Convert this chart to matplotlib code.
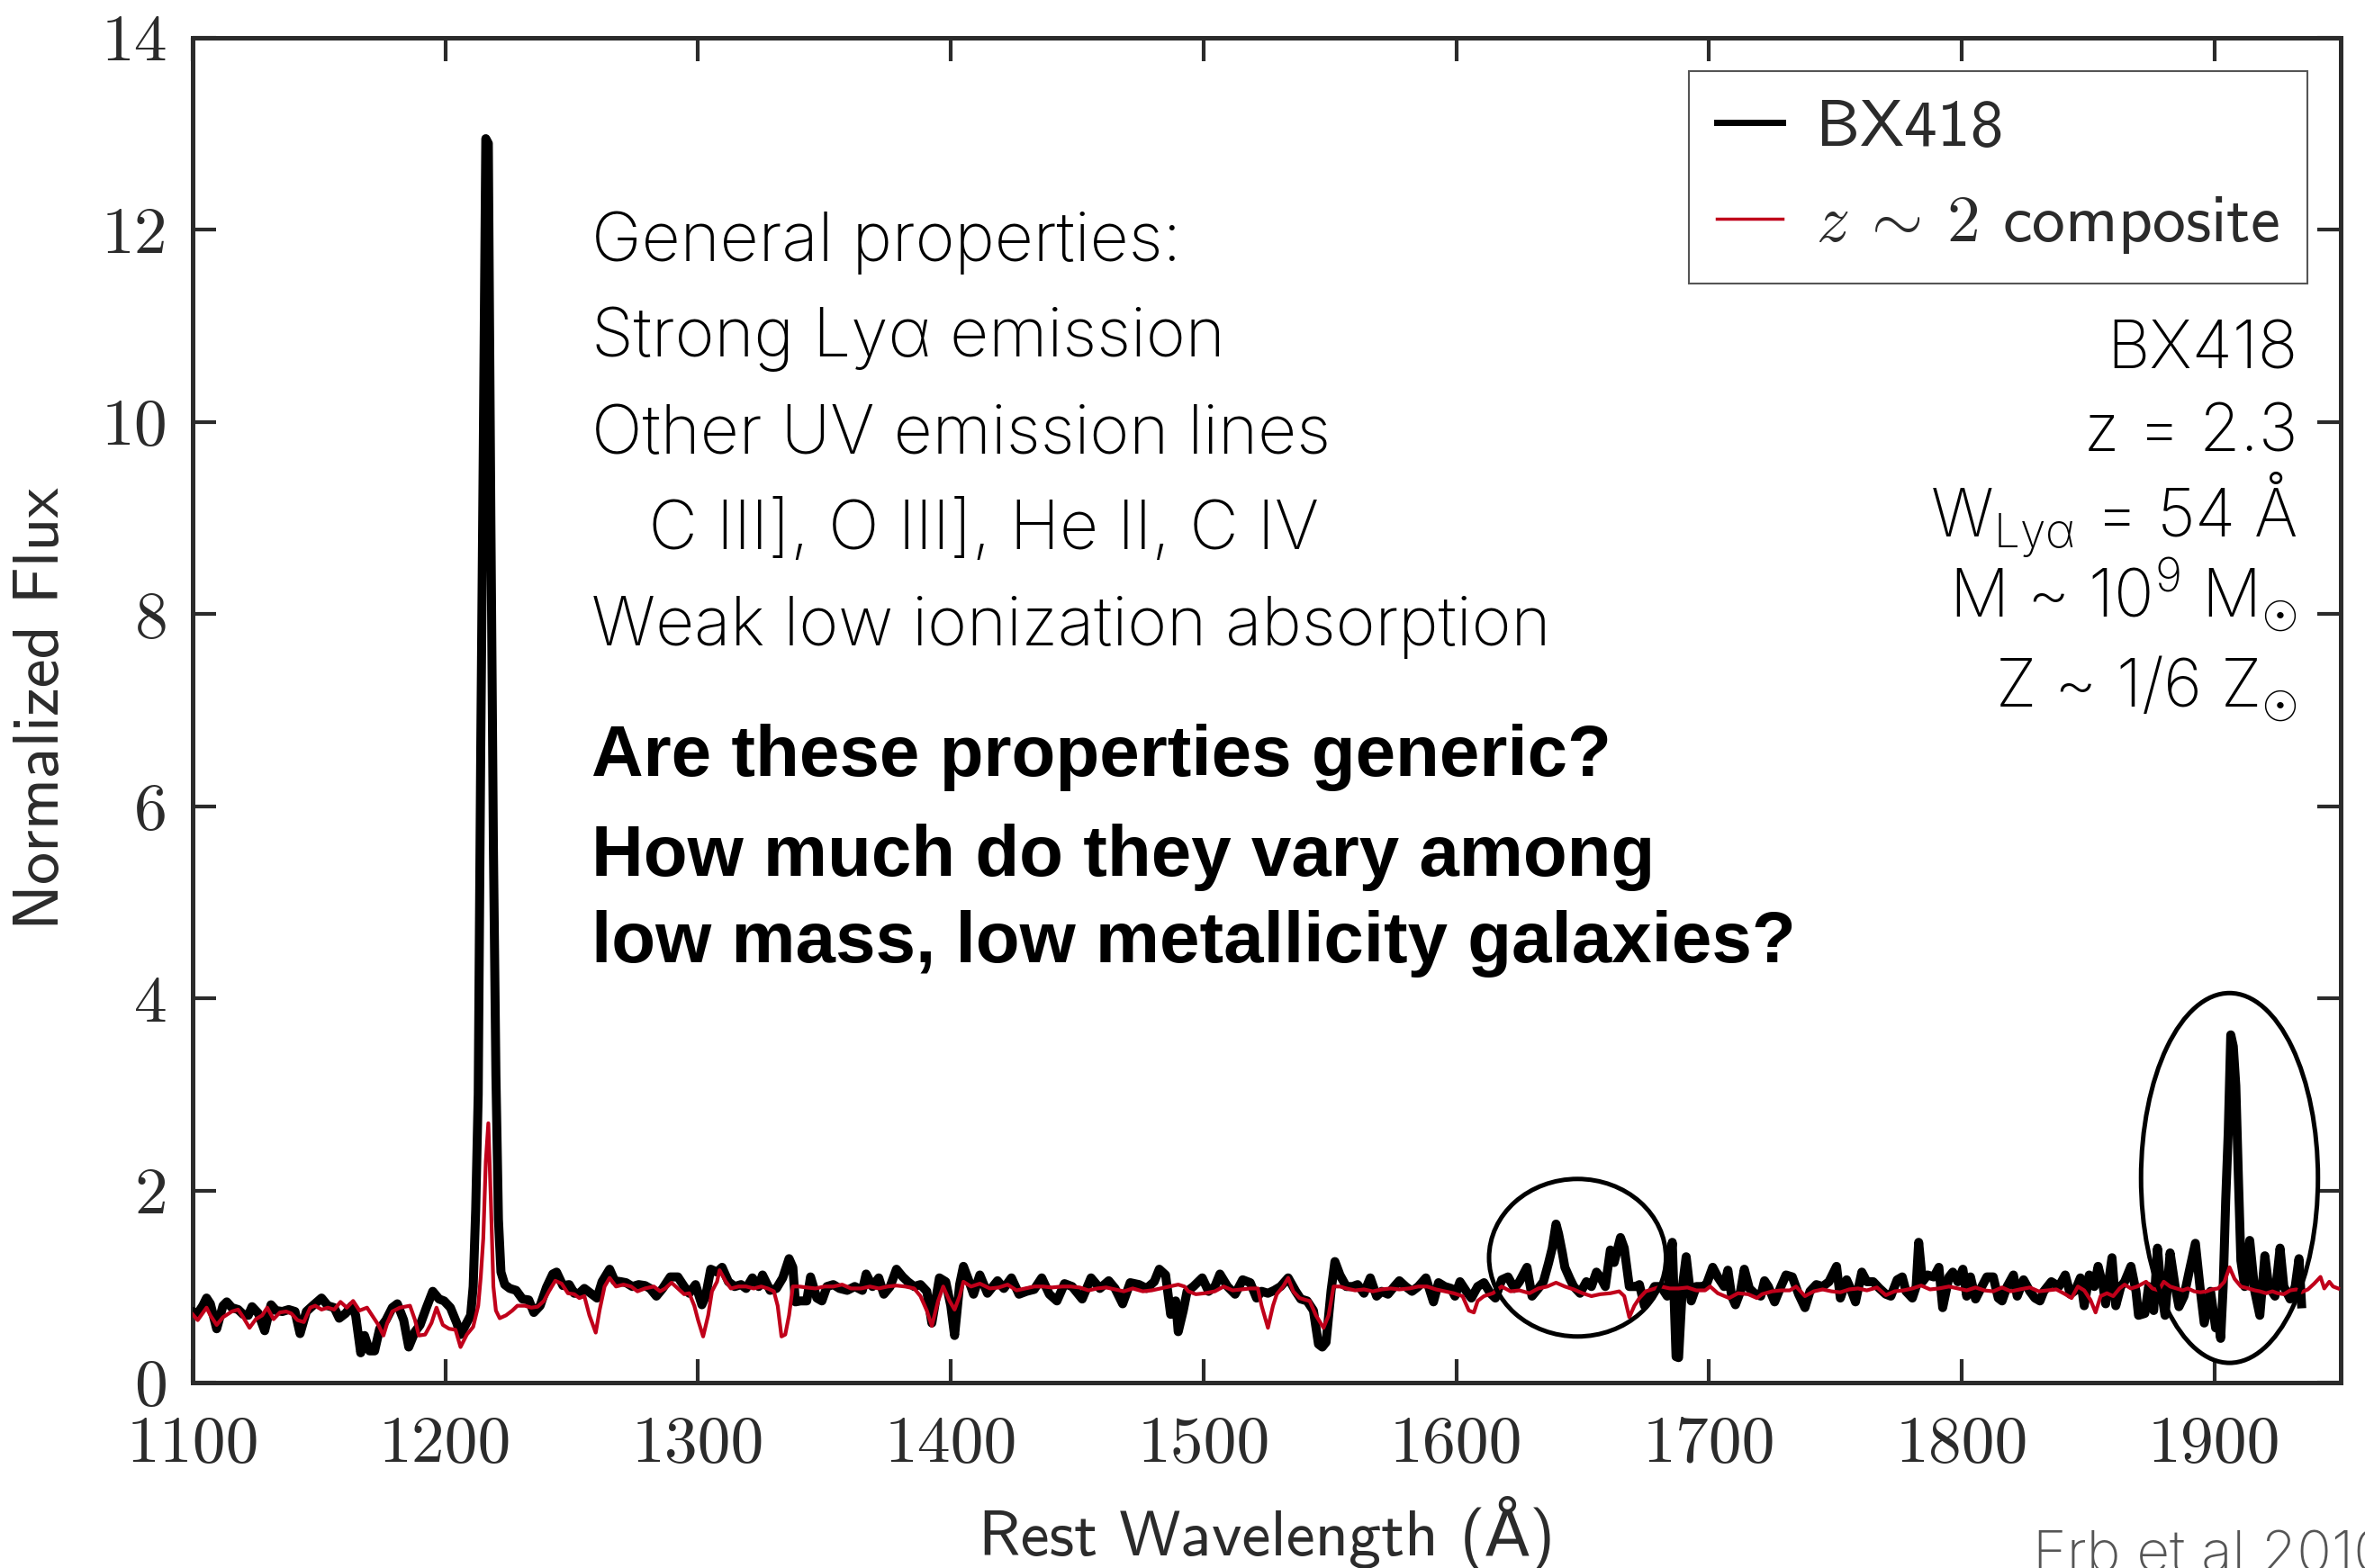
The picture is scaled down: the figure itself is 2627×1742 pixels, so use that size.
import matplotlib.pyplot as plt
from matplotlib.patches import Ellipse

# BX418 spectrum (rest wavelength in Angstrom, normalized flux)
bx418_wave = [
    1100, 1102, 1104, 1105.5, 1107, 1109.5, 1112, 1113.5, 1115.5, 1118,
    1120, 1122, 1123.5, 1126, 1128.5, 1131, 1133, 1135.5, 1138, 1140.5,
    1142.5, 1145, 1147.5, 1151, 1153.5, 1156, 1158, 1160.5, 1163, 1164.5,
    1166.5, 1168, 1170, 1172, 1174, 1176.5, 1179, 1181, 1183.5, 1185.5,
    1188, 1190, 1192.5, 1195, 1197.5, 1199.5, 1202, 1204.5, 1206, 1208,
    1210, 1211, 1212, 1213, 1214, 1215, 1216, 1217, 1218, 1219,
    1220, 1221, 1222, 1223.5, 1225.5, 1228, 1230.5, 1233, 1235, 1237.5,
    1240, 1242.5, 1244, 1246.5, 1249, 1251, 1253, 1255, 1257.5, 1260,
    1262, 1265, 1267, 1269.5, 1271.5, 1274, 1276.5, 1279, 1281, 1283.5,
    1286, 1289, 1292, 1294.5, 1296.5, 1299, 1301.5, 1303, 1305, 1307.5,
    1309.5, 1312, 1314.5, 1317, 1319, 1321.5, 1324, 1325.5, 1328.5, 1331,
    1333.5, 1336, 1337.5, 1338.5, 1340.5, 1343, 1344.5, 1347, 1349, 1351,
    1353.5, 1356, 1359, 1362, 1365, 1366.5, 1369, 1371.5, 1373.5, 1376,
    1378.5, 1381, 1383, 1385.5, 1388, 1390.5, 1392.5, 1395.5, 1398, 1400,
    1401.5, 1403.5, 1405, 1407, 1409, 1411.5, 1414.5, 1418.5, 1421, 1424,
    1427, 1430, 1433, 1436, 1439, 1442, 1445, 1448, 1452, 1455.5,
    1459, 1462.5, 1465, 1468, 1471, 1474.5, 1477.5, 1480.5, 1482.5, 1485,
    1487, 1489, 1490, 1492, 1493.5, 1496, 1499.5, 1502, 1504.5, 1506.5,
    1509.5, 1512.5, 1515.5, 1518.5, 1521, 1523, 1525.5, 1528, 1530.5, 1533.5,
    1536.5, 1538.5, 1541, 1543.5, 1545.5, 1547, 1548.5, 1550.5, 1552, 1554,
    1556.5, 1559, 1561, 1563.5, 1566, 1568.5, 1570.5, 1573, 1575.5, 1577.5,
    1580, 1582.5, 1585, 1588, 1591, 1593, 1595.5, 1598, 1599.5, 1601.5,
    1604, 1606, 1608.5, 1611, 1613.5, 1615.5, 1618, 1620.5, 1623, 1625,
    1628, 1630, 1632.5, 1634.5, 1636.5, 1638, 1639.5, 1640.5, 1642, 1643,
    1645, 1646.5, 1649, 1651.5, 1653.5, 1655.5, 1657, 1659, 1661, 1662.5,
    1665, 1666.5, 1668.5, 1671, 1672.5, 1674.5, 1676, 1678.5, 1681, 1683.5,
    1685.5, 1687, 1688, 1689.5, 1691, 1693, 1695, 1697.5, 1699, 1701.5,
    1703.5, 1706, 1707.5, 1709, 1710.5, 1712.5, 1714, 1716, 1718, 1720.5,
    1722, 1723.5, 1726, 1728.5, 1730.5, 1733, 1735.5, 1738, 1740, 1742.5,
    1745, 1747.5, 1750.5, 1752, 1754.5, 1756, 1758, 1760.5, 1762.5, 1765,
    1767.5, 1770, 1772, 1774.5, 1776.5, 1778, 1780.5, 1782, 1783, 1784.5,
    1786.5, 1789, 1791, 1792.5, 1795, 1796.5, 1798.5, 1800.5, 1802, 1803.5,
    1805.5, 1808, 1810, 1812.5, 1814.5, 1816, 1818, 1820.5, 1822, 1824.5,
    1827, 1829, 1831, 1832.5, 1835.5, 1838.5, 1841, 1843, 1845, 1847,
    1848.5, 1850.5, 1852.5, 1854, 1856, 1857, 1859.5, 1861, 1863, 1864.5,
    1867, 1869, 1870, 1872.5, 1874, 1876, 1877.5, 1879, 1880.5, 1882.5,
    1884.5, 1886, 1888, 1890, 1892.5, 1894.5, 1896, 1898.5, 1900.5, 1901.5,
    1902.5, 1903.5, 1904.5, 1905.5, 1906.5, 1907.5, 1908.5, 1909.5, 1910.5, 1912,
    1914, 1916, 1918, 1920, 1921.5, 1924, 1926, 1927.5, 1930, 1932,
    1933.5, 1934.5,
]
bx418_flux = [
    0.74, 0.72, 0.80, 0.88, 0.82, 0.56, 0.80, 0.84, 0.78, 0.76,
    0.71, 0.70, 0.79, 0.72, 0.54, 0.81, 0.75, 0.74, 0.76, 0.74,
    0.51, 0.74, 0.80, 0.88, 0.80, 0.78, 0.67, 0.72, 0.80, 0.70,
    0.31, 0.49, 0.33, 0.33, 0.56, 0.65, 0.78, 0.82, 0.65, 0.37,
    0.53, 0.60, 0.78, 0.95, 0.87, 0.85, 0.78, 0.62, 0.50, 0.60,
    0.70, 1.00, 1.80, 3.00, 6.60, 9.70, 12.95, 12.90, 9.00, 5.60,
    3.20, 1.70, 1.15, 1.02, 0.98, 0.96, 0.87, 0.86, 0.73, 0.80,
    0.99, 1.13, 1.15, 1.01, 1.02, 0.93, 0.93, 0.98, 0.93, 0.88,
    1.05, 1.18, 1.06, 1.05, 1.04, 1.00, 1.02, 1.01, 0.98, 0.90,
    0.98, 1.10, 1.10, 1.00, 0.93, 1.02, 0.81, 0.90, 1.18, 1.15,
    1.20, 1.05, 1.00, 1.02, 0.98, 1.09, 1.00, 1.12, 0.96, 0.98,
    1.09, 1.29, 1.20, 0.84, 0.85, 0.85, 1.10, 0.88, 0.85, 1.00,
    1.02, 0.98, 0.96, 1.00, 0.96, 1.13, 1.00, 1.09, 0.92, 1.00,
    1.18, 1.10, 1.05, 1.00, 1.02, 0.95, 0.62, 1.09, 1.05, 0.80,
    0.49, 1.02, 1.21, 1.07, 0.92, 1.12, 0.93, 1.06, 0.98, 1.09,
    0.92, 0.95, 0.97, 1.09, 0.92, 0.85, 1.03, 1.00, 0.87, 1.09,
    0.98, 1.06, 0.98, 0.82, 1.04, 1.02, 0.98, 1.05, 1.18, 1.12,
    0.71, 0.85, 0.53, 0.75, 0.95, 1.00, 1.09, 0.95, 1.00, 1.13,
    1.00, 0.92, 1.07, 1.04, 0.88, 0.95, 0.93, 0.96, 1.00, 1.09,
    0.95, 0.87, 0.85, 0.75, 0.40, 0.37, 0.42, 0.96, 1.26, 1.12,
    1.00, 1.00, 1.02, 0.93, 1.09, 0.90, 0.95, 0.92, 1.00, 1.06,
    1.00, 0.95, 1.00, 1.09, 0.84, 1.04, 1.00, 0.98, 0.90, 1.05,
    0.95, 0.88, 1.00, 1.04, 0.93, 0.88, 1.07, 1.10, 0.98, 1.05,
    1.20, 0.90, 0.98, 1.05, 1.24, 1.40, 1.65, 1.55, 1.35, 1.20,
    1.08, 1.00, 0.93, 1.05, 1.00, 1.15, 1.10, 1.00, 1.38, 1.25,
    1.51, 1.40, 1.00, 1.00, 1.02, 0.80, 0.88, 1.00, 1.00, 0.90,
    1.46, 0.27, 0.26, 1.00, 1.31, 0.85, 1.00, 1.00, 1.02, 1.20,
    1.10, 1.00, 1.17, 0.90, 0.81, 0.95, 1.18, 0.98, 0.93, 0.90,
    1.06, 1.00, 0.84, 1.00, 1.12, 1.10, 0.92, 0.78, 0.95, 1.02,
    1.00, 1.05, 1.21, 0.88, 1.07, 0.98, 0.84, 1.15, 1.05, 1.05,
    0.98, 0.92, 0.90, 1.07, 1.10, 0.95, 0.88, 1.00, 1.46, 1.05,
    1.12, 1.10, 1.20, 0.78, 1.10, 1.15, 1.05, 1.18, 0.90, 1.10,
    0.87, 1.00, 1.10, 1.10, 0.88, 0.85, 1.00, 1.12, 0.90, 1.07,
    0.95, 0.88, 0.85, 0.95, 1.05, 1.00, 1.12, 0.92, 0.96, 1.09,
    0.80, 1.12, 1.00, 1.21, 1.00, 0.82, 1.30, 0.80, 1.00, 1.05,
    1.21, 0.95, 0.70, 0.72, 1.00, 0.75, 1.40, 0.95, 0.70, 1.35,
    1.00, 0.79, 0.90, 1.15, 1.45, 0.95, 0.62, 0.95, 0.57, 0.65,
    0.46, 1.00, 1.90, 2.60, 3.62, 3.50, 3.09, 2.15, 1.27, 1.00,
    1.48, 0.95, 0.70, 1.32, 1.00, 0.90, 1.40, 1.00, 0.87, 1.00,
    1.29, 0.82,
]

# z~2 composite spectrum
comp_wave = [
    1100, 1102, 1105.5, 1107, 1109.5, 1112, 1115.5, 1118, 1120, 1122.5,
    1125, 1127.5, 1129.5, 1132, 1134.5, 1137, 1139, 1141.5, 1144, 1146.5,
    1148.5, 1151, 1153.5, 1156, 1158.5, 1161, 1163.5, 1166, 1169, 1171,
    1173.5, 1175.5, 1177, 1179, 1182, 1184, 1186, 1188, 1189.5, 1192,
    1194.5, 1196.5, 1199, 1201.5, 1204, 1206, 1208.5, 1211, 1213, 1214,
    1215, 1216, 1217, 1218, 1219, 1220, 1221.5, 1224, 1226.5, 1228.5,
    1231.5, 1234, 1236.5, 1239, 1241, 1243.5, 1246, 1248.5, 1251, 1253,
    1255, 1257, 1259.5, 1261, 1263, 1265, 1267.5, 1270.5, 1273.5, 1276,
    1279, 1282.5, 1285, 1287, 1289.5, 1292, 1294.5, 1296.5, 1298.5, 1300,
    1302, 1304, 1305.5, 1307.5, 1308.5, 1311, 1313, 1316, 1319, 1322,
    1325, 1327.5, 1330, 1331.5, 1333, 1334.5, 1336, 1337.5, 1340, 1343,
    1346.5, 1350, 1353.5, 1357, 1360.5, 1364.5, 1368, 1371.5, 1375, 1378.5,
    1382, 1385.5, 1388, 1390.5, 1392.5, 1395, 1397, 1399.5, 1401.5, 1403.5,
    1405, 1408, 1411.5, 1415.5, 1419, 1422.5, 1426, 1429.5, 1433, 1436.5,
    1440, 1444, 1447.5, 1451, 1454.5, 1458, 1461.5, 1465, 1468.5, 1472,
    1476, 1479.5, 1483, 1486.5, 1490, 1492.5, 1494, 1497, 1500.5, 1504.5,
    1508, 1511.5, 1515, 1518.5, 1521.5, 1523, 1525.5, 1527.5, 1529, 1531.5,
    1533.5, 1535.5, 1538, 1540.5, 1542, 1544.5, 1547.5, 1549.5, 1551.5, 1554,
    1556.5, 1560, 1563.5, 1567, 1570.5, 1574, 1577.5, 1581.5, 1585, 1588.5,
    1592, 1595.5, 1599, 1602.5, 1605, 1607, 1608.5, 1611, 1614.5, 1618,
    1621.5, 1625, 1629, 1632.5, 1636, 1639.5, 1643, 1646.5, 1650, 1653.5,
    1657, 1661, 1664.5, 1666.5, 1668.5, 1670.5, 1672.5, 1675, 1677.5, 1681,
    1684.5, 1688, 1691.5, 1695, 1698.5, 1700.5, 1703.5, 1708, 1711.5, 1715.5,
    1719, 1721, 1725, 1728.5, 1732, 1734.5, 1738, 1741.5, 1745, 1748.5,
    1752, 1755.5, 1759, 1762.5, 1766.5, 1770, 1773.5, 1777, 1780.5, 1784,
    1787.5, 1791, 1795, 1798.5, 1802, 1805.5, 1809, 1812.5, 1816, 1819.5,
    1823, 1827, 1830.5, 1834, 1837.5, 1841, 1843.5, 1846, 1848.5, 1851,
    1853, 1855, 1857.5, 1860, 1862.5, 1864.5, 1867, 1869.5, 1873, 1875.5,
    1878, 1880, 1882.5, 1885, 1887.5, 1889.5, 1892, 1894.5, 1897, 1899,
    1901.5, 1904, 1906, 1908, 1910.5, 1913.5, 1916, 1918, 1920.5, 1923,
    1925, 1927.5, 1930, 1932.5, 1934.5, 1937, 1939.5, 1942, 1943.5, 1945.5,
    1947, 1949,
]
comp_flux = [
    0.71, 0.65, 0.78, 0.70, 0.60, 0.68, 0.74, 0.76, 0.68, 0.57,
    0.66, 0.70, 0.78, 0.66, 0.73, 0.74, 0.72, 0.65, 0.63, 0.78,
    0.80, 0.76, 0.78, 0.76, 0.84, 0.78, 0.85, 0.75, 0.78, 0.70,
    0.60, 0.49, 0.62, 0.74, 0.78, 0.79, 0.80, 0.65, 0.49, 0.50,
    0.62, 0.78, 0.60, 0.56, 0.55, 0.37, 0.50, 0.58, 0.80, 1.10,
    1.50, 2.30, 2.70, 1.90, 1.00, 0.75, 0.67, 0.70, 0.75, 0.80,
    0.80, 0.78, 0.79, 0.85, 0.95, 1.06, 1.03, 0.93, 0.92, 0.88,
    0.90, 0.70, 0.52, 0.75, 1.00, 1.09, 1.00, 1.02, 1.00, 0.95,
    0.98, 1.00, 0.95, 0.98, 1.04, 0.98, 0.92, 0.93, 0.80, 0.65,
    0.48, 0.70, 0.95, 1.05, 1.17, 1.05, 0.98, 1.00, 1.00, 0.98,
    1.00, 0.98, 0.95, 0.80, 0.48, 0.50, 0.70, 1.00, 1.00, 0.99,
    0.98, 1.00, 1.00, 1.02, 0.98, 0.98, 1.00, 0.98, 1.00, 1.01,
    1.00, 0.98, 0.90, 0.75, 0.59, 0.85, 1.00, 0.85, 0.76, 0.90,
    1.05, 1.00, 1.03, 0.98, 0.99, 1.02, 0.96, 0.98, 1.00, 1.00,
    0.99, 1.00, 1.00, 0.99, 0.96, 0.98, 0.99, 0.97, 0.95, 0.98,
    0.95, 0.96, 0.98, 1.00, 1.02, 1.00, 0.95, 0.92, 0.93, 0.95,
    1.00, 0.96, 0.97, 0.98, 0.98, 0.80, 0.57, 0.80, 0.92, 1.00,
    1.09, 0.95, 0.88, 0.86, 0.85, 0.70, 0.57, 0.70, 1.00, 1.00,
    0.98, 0.96, 0.97, 0.95, 0.97, 0.98, 0.97, 0.98, 1.00, 1.00,
    0.97, 0.95, 0.93, 0.90, 0.75, 0.73, 0.85, 0.90, 0.93, 1.00,
    0.95, 0.96, 0.93, 0.98, 1.00, 1.04, 1.00, 0.97, 0.93, 0.90,
    0.92, 0.93, 0.95, 0.90, 0.68, 0.80, 0.88, 0.95, 0.97, 1.00,
    0.98, 0.98, 0.99, 0.96, 0.96, 1.00, 0.93, 0.88, 0.93, 0.92,
    0.88, 0.92, 0.95, 0.96, 0.96, 1.00, 0.90, 0.95, 0.97, 0.95,
    0.94, 0.97, 0.98, 0.96, 0.99, 0.91, 0.95, 0.96, 0.98, 1.01,
    0.97, 0.98, 1.00, 0.98, 0.96, 0.99, 0.96, 0.95, 0.99, 0.95,
    0.97, 0.99, 0.95, 0.96, 0.97, 0.92, 0.88, 1.00, 0.96, 0.86,
    0.73, 0.90, 0.93, 0.90, 0.98, 1.02, 0.98, 1.00, 1.05, 0.98,
    0.96, 1.05, 1.00, 0.98, 0.96, 0.98, 0.95, 0.94, 0.95, 0.97,
    0.98, 1.05, 1.20, 1.08, 1.00, 0.98, 0.96, 0.95, 0.93, 0.95,
    0.93, 0.92, 0.96, 0.97, 0.94, 0.97, 1.03, 1.10, 0.98, 1.05,
    1.00, 0.98,
]

x_ticks = [1100, 1200, 1300, 1400, 1500, 1600, 1700, 1800, 1900]
y_ticks = [0, 2, 4, 6, 8, 10, 12, 14]

# circled emission features: (centre wavelength, centre flux, width, height)
circles = [(1648, 1.30, 70, 1.64), (1906, 2.13, 70, 3.85)]

properties_lines = [
    "General properties:",
    "Strong Ly\u03b1 emission",
    "Other UV emission lines",
    "   C III], O III], He II, C IV",
    "Weak low ionization absorption",
]
question_lines = [
    "Are these properties generic?",
    "How much do they vary among",
    "low mass, low metallicity galaxies?",
]
galaxy_lines = [
    "BX418",
    "z = 2.3",
    "W$_{\\mathrm{Ly\u03b1}}$ = 54 \u00c5",
    "M ~ 10$^{\\mathrm{9}}$ M$_{\\odot}$",
    "Z ~ 1/6 Z$_{\\odot}$",
]

W, H = 2627, 1742
spine_col = "#2b2b2b"
sans_light = "Inter"
plt.rcParams["mathtext.fontset"] = "custom"
plt.rcParams["mathtext.rm"] = "Inter:light"
plt.rcParams["mathtext.it"] = "Inter:light:italic"

fig = plt.figure(figsize=(W / 100, H / 100), dpi=100)
ax = fig.add_axes([214 / W, 1 - 1536 / H, (2600 - 214) / W, (1536 - 42) / H])

ax.plot(bx418_wave, bx418_flux, color="black", lw=7.2, solid_joinstyle="round",
        label="BX418", zorder=3)
ax.plot(comp_wave, comp_flux, color="#c0001a", lw=3.0,
        label=r"$z\:\sim\:2$ composite", zorder=4)

for cx, cy, w, h in circles:
    ax.add_patch(Ellipse((cx, cy), w, h, fill=False, ec="black", lw=3.6, zorder=5))

ax.set_xlim(1100, 1950)
ax.set_ylim(0, 14)
ax.set_xticks(x_ticks)
ax.set_yticks(y_ticks)
ax.set_xticklabels([str(v) for v in x_ticks], fontfamily="cmr10", fontsize=53)
ax.set_yticklabels([str(v) for v in y_ticks], fontfamily="cmr10", fontsize=53)
ax.tick_params(direction="in", length=19, width=3, top=True, right=True,
               color=spine_col, labelcolor=spine_col)
ax.tick_params(axis="x", pad=27)
ax.tick_params(axis="y", pad=20)
for s in ax.spines.values():
    s.set_linewidth(3.6)
    s.set_color(spine_col)

ax.set_xlabel("Rest Wavelength (\u00c5)", family=["cmss10", "DejaVu Sans"],
              fontsize=52, color=spine_col, va="center")
ax.set_ylabel("Normalized Flux", family=["cmss10", "DejaVu Sans"],
              fontsize=52, color=spine_col, va="center")
ax.xaxis.set_label_coords((1407 - 214) / 2386, -(1704 - 1536) / 1494)
ax.yaxis.set_label_coords(-(214 - 47) / 2386, (1536 - 787) / 1494)

leg = ax.legend(loc="upper right", bbox_to_anchor=(0.9845, 0.975), borderaxespad=0,
                fancybox=False, edgecolor="#555555", framealpha=1,
                prop={"family": ["cmss10", "DejaVu Sans"], "size": 53},
                handlelength=1.0, handletextpad=0.5, labelspacing=0.55,
                borderpad=0.42)
leg.get_frame().set_linewidth(1.5)
for t in leg.get_texts():
    t.set_color(spine_col)
    t.set_math_fontfamily("cm")
leg.get_lines()[0].set_linewidth(5)
leg.get_lines()[1].set_linewidth(2.5)

prop_y = [270, 377, 484, 590, 697]
for txt, y in zip(properties_lines, prop_y):
    fig.text(657 / W, 1 - y / H, txt, family=sans_light, weight="light",
             fontsize=54, va="center", ha="left")

q_y = [841, 952, 1049]
for txt, y in zip(question_lines, q_y):
    fig.text(657 / W, 1 - y / H, txt, family="Liberation Sans", weight="bold",
             fontsize=57.5, va="center", ha="left")

g_y = [390, 482, 572, 661, 765]
for txt, y in zip(galaxy_lines, g_y):
    fig.text(2552 / W, 1 - y / H, txt, family=sans_light, weight="light",
             fontsize=53, va="center", ha="right")

fig.text(2258 / W, 1 - 1700 / H, "Erb et al 2010", family=sans_light, weight="light",
         fontsize=46, color="#555555", va="top", ha="left")

fig.savefig("out.png", dpi=100)
